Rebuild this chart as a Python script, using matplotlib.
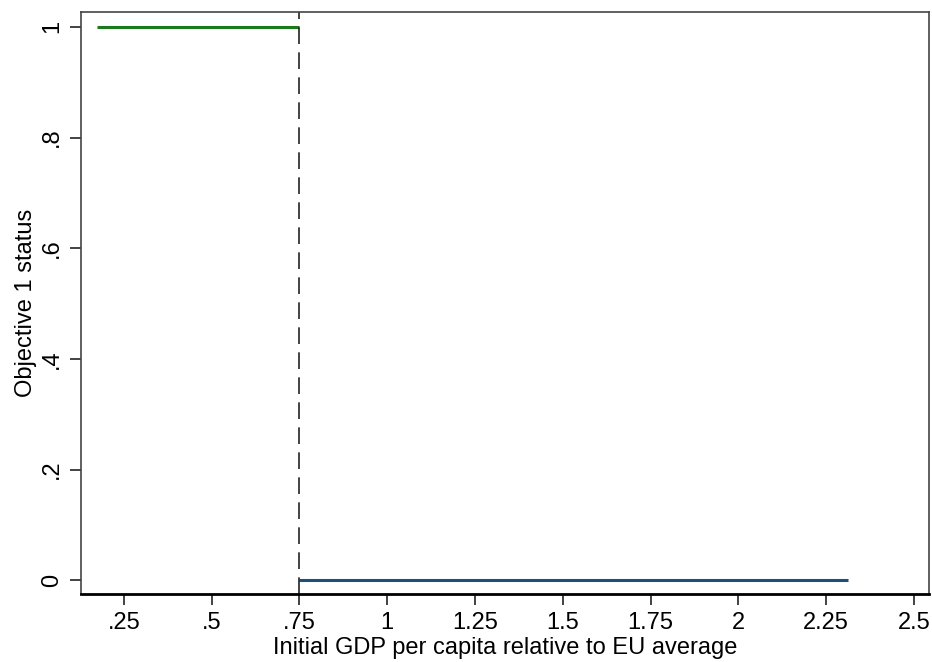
import matplotlib
matplotlib.use("Agg")
import matplotlib.pyplot as plt

# Data
green_x = [0.173, 0.75]
green_y = [1, 1]
blue_x = [0.75, 2.313]
blue_y = [0, 0]
cutoff = 0.75
xticks = [0.25, 0.5, 0.75, 1, 1.25, 1.5, 1.75, 2, 2.25, 2.5]
xticklabels = [".25", ".5", ".75", "1", "1.25", "1.5", "1.75", "2", "2.25", "2.5"]
yticks = [0, 0.2, 0.4, 0.6, 0.8, 1]
yticklabels = ["0", ".2", ".4", ".6", ".8", "1"]

plt.rcParams['font.family'] = ['Liberation Sans', 'DejaVu Sans']

fig = plt.figure(figsize=(9.32, 6.62), dpi=100)
ax = fig.add_axes([81/932, 1-594/662, (929-81)/932, (594-12)/662])

ax.plot(green_x, green_y, color='#1c7a1c', lw=2.2, solid_capstyle='butt')
ax.plot(blue_x, blue_y, color='#1f4e79', lw=2.2, solid_capstyle='butt')
ax.axvline(cutoff, color='#222222', lw=1.2, ls=(0, (10, 5)))

ax.set_xlim(0.128, 2.543)
ax.set_ylim(-0.025, 1.027)
ax.set_xticks(xticks)
ax.set_xticklabels(xticklabels)
ax.set_yticks(yticks)
ax.set_yticklabels(yticklabels, rotation=90, va='center')
ax.tick_params(axis='both', direction='out', length=8, width=1.2, labelsize=17, colors='#222222', labelcolor='black', pad=5)

for s in ['top', 'right', 'left']:
    ax.spines[s].set_color('#444444')
    ax.spines[s].set_linewidth(1.2)
ax.spines['bottom'].set_color('black')
ax.spines['bottom'].set_linewidth(2.0)

ax.set_xlabel("Initial GDP per capita relative to EU average", fontsize=17, labelpad=2)
ax.set_ylabel("Objective 1 status", fontsize=17, labelpad=3)

fig.savefig("out.png", dpi=100)
